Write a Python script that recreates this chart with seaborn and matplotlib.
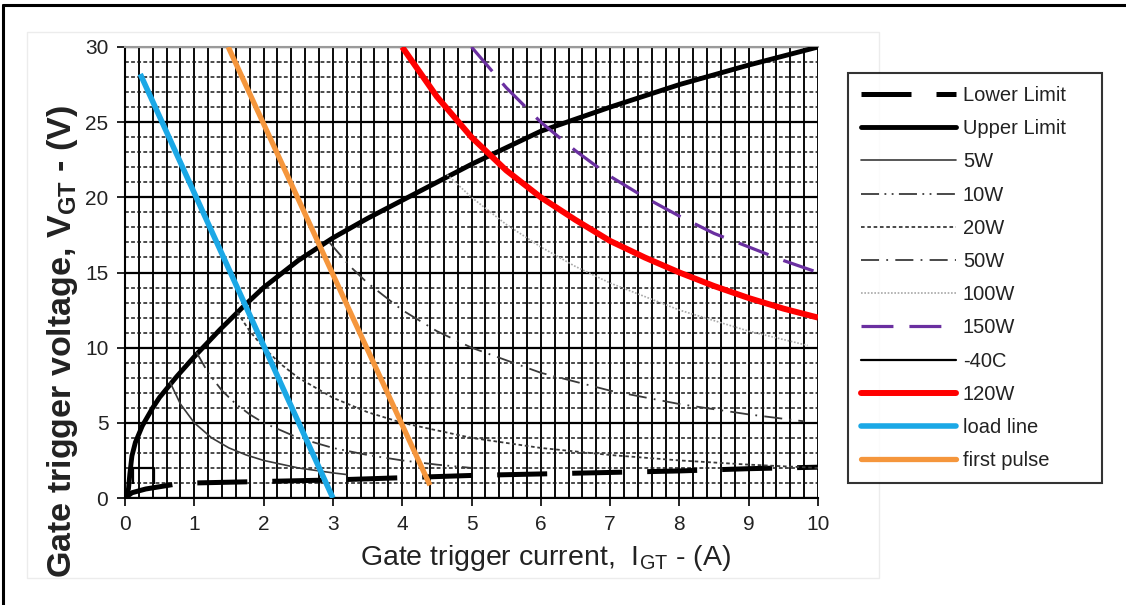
import numpy as np
import pandas as pd
import matplotlib
matplotlib.use("Agg")
import matplotlib.pyplot as plt
import seaborn as sns
from matplotlib.ticker import MultipleLocator
from matplotlib.lines import Line2D
from matplotlib.patches import Rectangle

# ---------------- data ----------------
lower_i = [0.0, 0.1, 0.3, 0.7, 1.0, 2.0, 3.0, 4.0, 5.0, 6.0, 7.0, 8.0, 9.0, 10.0]
lower_v = [0.0, 0.35, 0.6, 0.9, 1.0, 1.1, 1.2, 1.35, 1.5, 1.6, 1.7, 1.8, 1.95, 2.05]

upper_i = [0.0, 0.05, 0.07, 0.1, 0.15, 0.25, 0.4, 0.5, 0.75, 1.0, 1.37, 1.7, 2.0, 2.5,
           3.0, 3.5, 4.0, 4.5, 5.0, 5.5, 6.0, 7.0, 8.0, 9.0, 10.0]
upper_v = [0.0, 0.6, 1.6, 2.8, 3.7, 4.8, 6.0, 6.7, 8.1, 9.4, 11.2, 12.7, 14.0, 15.8,
           17.3, 18.6, 19.8, 21.0, 22.2, 23.3, 24.4, 26.0, 27.5, 28.8, 30.0]

w5_i = [0.65, 0.8, 1.0, 1.25, 1.5, 1.75, 2.0, 2.5, 3.0, 3.2]
w5_v = [7.7, 6.25, 5.0, 4.0, 3.33, 2.86, 2.5, 2.0, 1.67, 1.56]

w10_i = [1.03, 1.2, 1.4, 1.6, 1.8, 2.0, 2.5, 3.0, 3.5, 4.0, 4.5, 5.0]
w10_v = [9.7, 8.33, 7.14, 6.25, 5.56, 5.0, 4.0, 3.33, 2.86, 2.5, 2.22, 2.0]

w20_i = [1.62, 1.8, 2.0, 2.25, 2.5, 3.0, 3.5, 4.0, 5.0, 6.0, 7.0, 8.0, 9.0, 10.0]
w20_v = [12.35, 11.1, 10.0, 8.9, 8.0, 6.67, 5.71, 5.0, 4.0, 3.33, 2.86, 2.5, 2.22, 2.0]

w50_i = [2.95, 3.25, 3.5, 4.0, 4.5, 5.0, 6.0, 7.0, 8.0, 9.0, 9.8]
w50_v = [17.0, 15.4, 14.3, 12.5, 11.1, 10.0, 8.33, 7.14, 6.25, 5.56, 5.1]

w100_i = [4.65, 5.0, 5.5, 6.0, 6.5, 7.0, 8.0, 9.0, 9.85]
w100_v = [21.5, 20.0, 18.2, 16.7, 15.4, 14.3, 12.5, 11.1, 10.15]

w150_i = [5.0, 5.5, 6.0, 6.5, 7.0, 7.5, 8.0, 8.5, 9.0, 9.5, 10.0]
w150_v = [30.0, 27.3, 25.0, 23.1, 21.4, 20.0, 18.75, 17.6, 16.7, 15.8, 15.0]

m40c_i = [0.12, 0.12, 0.42, 0.42]
m40c_v = [0.9, 2.0, 2.0, 0.9]

w120_i = [4.0, 4.5, 5.0, 5.5, 6.0, 6.5, 7.0, 7.5, 8.0, 8.5, 9.0, 9.5, 10.0]
w120_v = [30.0, 26.7, 24.0, 21.8, 20.0, 18.5, 17.1, 16.0, 15.0, 14.1, 13.3, 12.6, 12.0]

load_i = [0.22, 3.0]
load_v = [28.2, 0.0]

pulse_i = [1.49, 4.4]
pulse_v = [30.0, 0.85]

x_ticks = [0, 1, 2, 3, 4, 5, 6, 7, 8, 9, 10]
y_ticks = [0, 5, 10, 15, 20, 25, 30]

# ---------------- style ----------------
sns.set_theme(style="white")
plt.rcParams["font.family"] = ["Liberation Sans", "DejaVu Sans"]
plt.rcParams["mathtext.fontset"] = "custom"
plt.rcParams["mathtext.rm"] = "Liberation Sans"
plt.rcParams["mathtext.bf"] = "Liberation Sans:bold"

W, H = 1126, 605
fig = plt.figure(figsize=(W / 100, H / 100), dpi=100)
fig.patch.set_facecolor("white")

# outer frame (left + top) and faint chart-area border
fig.add_artist(Line2D([3 / W, 3 / W], [0, 1 - 5 / H], color="black", lw=2.2, transform=fig.transFigure))
fig.add_artist(Line2D([3 / W, 1], [1 - 5 / H, 1 - 5 / H], color="black", lw=2.2, transform=fig.transFigure))
fig.add_artist(Rectangle((27 / W, 1 - 578 / H), (879 - 27) / W, (578 - 32) / H, fill=False,
                         edgecolor="#ececec", lw=1, transform=fig.transFigure))

ax = fig.add_axes([125 / W, 1 - 498 / H, (818 - 125) / W, (498 - 47) / H])
ax.set_facecolor("white")

series = [
    ("Lower Limit", lower_i, lower_v, "black", 3.6, (0, (10.0, 5.0))),
    ("Upper Limit", upper_i, upper_v, "black", 3.5, "-"),
    ("5W", w5_i, w5_v, "#3a3a3a", 1.2, "-"),
    ("10W", w10_i, w10_v, "#3a3a3a", 1.3, (0, (10, 3, 1, 3, 1, 3))),
    ("20W", w20_i, w20_v, "#3a3a3a", 1.3, (0, (2, 1.5))),
    ("50W", w50_i, w50_v, "#3a3a3a", 1.3, (0, (10, 4, 1, 4))),
    ("100W", w100_i, w100_v, "#a8a8a8", 1.2, (0, (1, 1))),
    ("150W", w150_i, w150_v, "#6a2fa0", 2.3, (0, (10, 5))),
    ("-40C", m40c_i, m40c_v, "black", 1.6, "-"),
    ("120W", w120_i, w120_v, "#ff0000", 4.3, "-"),
    ("load line", load_i, load_v, "#1ba8e6", 4.0, "-"),
    ("first pulse", pulse_i, pulse_v, "#f5963c", 3.8, "-"),
]

handles = []
for label, xi, yv, col, lw, ls in series:
    df = pd.DataFrame({"I": xi, "V": yv})
    sns.lineplot(data=df, x="I", y="V", ax=ax, sort=False, estimator=None,
                 color=col, lw=lw, linestyle=ls, legend=False, zorder=3)
    line = ax.lines[-1]
    line.set_solid_capstyle("butt")
    line.set_dash_capstyle("butt")
    handles.append(Line2D([], [], color=col, lw=lw, linestyle=ls, label=label))

# axes / grid
ax.set_xlim(0, 10)
ax.set_ylim(0, 30)
ax.set_xticks(x_ticks)
ax.set_yticks(y_ticks)
ax.xaxis.set_minor_locator(MultipleLocator(0.2))
ax.yaxis.set_minor_locator(MultipleLocator(1))
ax.set_axisbelow(True)
ax.grid(which="both", axis="x", color="black", lw=1.35)
ax.grid(which="major", axis="y", color="black", lw=1.6)
ax.grid(which="minor", axis="y", color="#1a1a1a", lw=1.1, linestyle=(0, (2.5, 1.5)))
ax.tick_params(axis="both", which="major", direction="out", length=6, width=1.2,
               color="black", labelsize=15, pad=6, labelcolor="#222222")
ax.tick_params(axis="both", which="minor", length=0)
ax.tick_params(axis="x", bottom=True)
ax.tick_params(axis="y", left=True)
for s in ["left", "bottom"]:
    ax.spines[s].set_color("black")
    ax.spines[s].set_linewidth(1.5)
ax.spines["top"].set_color("#9a9a9a")
ax.spines["top"].set_linewidth(1.5)
ax.spines["right"].set_visible(False)

ax.set_xlabel(r"Gate trigger current,  I$_{\mathrm{GT}}$ - (A)", fontsize=20.5, color="#222222")
ax.xaxis.set_label_coords((546 - 125) / 693, (498 - 543) / 451)
ax.set_ylabel(r"Gate trigger voltage, V$_{\mathbf{GT}}$ - (V)", fontsize=24.5, fontweight="bold",
              color="#222222")
ax.yaxis.set_label_coords((80 - 125) / 693, (498 - 342) / 451)

leg = fig.legend(handles=handles, loc="upper left",
                 bbox_to_anchor=(848 / W, 1 - 488 / H, (1102 - 848) / W, (488 - 73) / H),
                 mode="expand", frameon=True, fancybox=False, edgecolor="black",
                 handlelength=4.7, handletextpad=0.35, labelspacing=0.705, borderpad=0.65,
                 borderaxespad=0, prop={"family": "Liberation Sans", "size": 14.5})
leg.get_frame().set_linewidth(1.5)
for t in leg.get_texts():
    t.set_color("#222222")

fig.savefig("out.png", dpi=100)
